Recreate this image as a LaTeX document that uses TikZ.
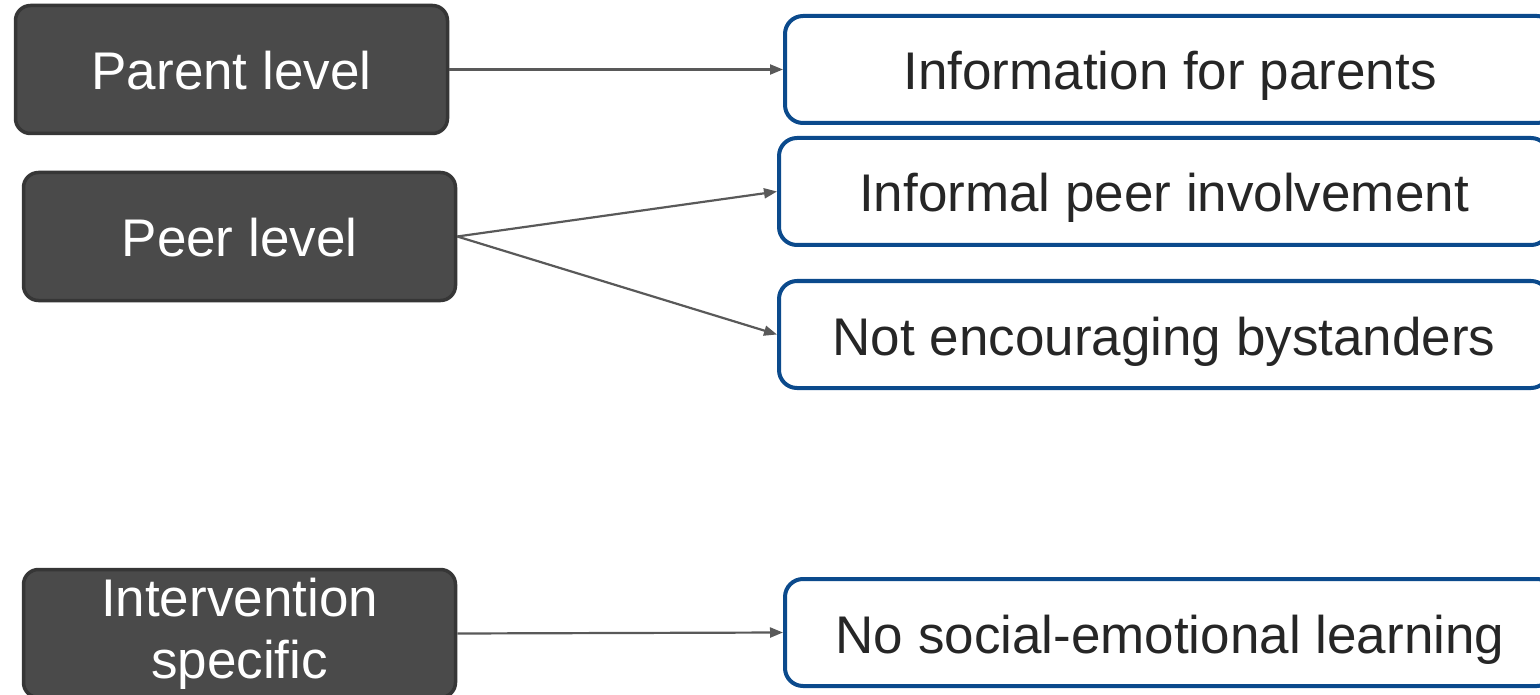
\documentclass[tikz,border=0pt]{standalone}
\usepackage{fontspec}
\setmainfont{Liberation Sans}
\usetikzlibrary{arrows.meta}
\definecolor{darkfill}{HTML}{4A4A4A}
\definecolor{darkline}{HTML}{363636}
\definecolor{blueline}{HTML}{0B4A8C}
\definecolor{arrowgray}{HTML}{595959}
\definecolor{txt}{HTML}{262626}
\tikzset{
  levelbox/.style={draw=darkline, fill=darkfill, line width=3.5pt, rounded corners=15pt,
    minimum width=432pt, minimum height=128pt, inner sep=0pt, text=white, align=center,
    font=\fontsize{53}{62}\selectfont},
  resultbox/.style={draw=blueline, fill=white, line width=4pt, rounded corners=18pt,
    minimum width=770pt, minimum height=107pt, inner sep=0pt, text=txt, align=center,
    font=\fontsize{53}{62}\selectfont},
  oneline/.style={text height=45pt, text depth=4pt},
  link/.style={draw=arrowgray, line width=2.2pt, -{Triangle[length=13pt,width=10pt]}}
}
\begin{document}
\begin{tikzpicture}[x=1pt,y=-1pt]
\useasboundingbox (0,0) rectangle (1540,695);
\clip (0,0) rectangle (1540,695);
\node[levelbox, oneline] (parent) at (231.5,69.5) {Parent level};
\node[levelbox, oneline] (peer) at (239.5,236.5) {Peer level};
\node[levelbox] (interv) at (239.5,633.5) {Intervention\\specific};
\node[resultbox, oneline] (info) at (1170,69.5) {Information for parents};
\node[resultbox, oneline] (informal) at (1164,191.5) {Informal peer involvement};
\node[resultbox, oneline] (notenc) at (1164,334.5) {Not encouraging bystanders};
\node[resultbox, oneline] (nosel) at (1170,632.5) {No social-emotional learning};
\draw[link] (parent.east) -- (info.west);
\draw[link] (peer.east) -- (informal.west);
\draw[link] (peer.east) -- (notenc.west);
\draw[link] (interv.east) -- (nosel.west);
\end{tikzpicture}
\end{document}
